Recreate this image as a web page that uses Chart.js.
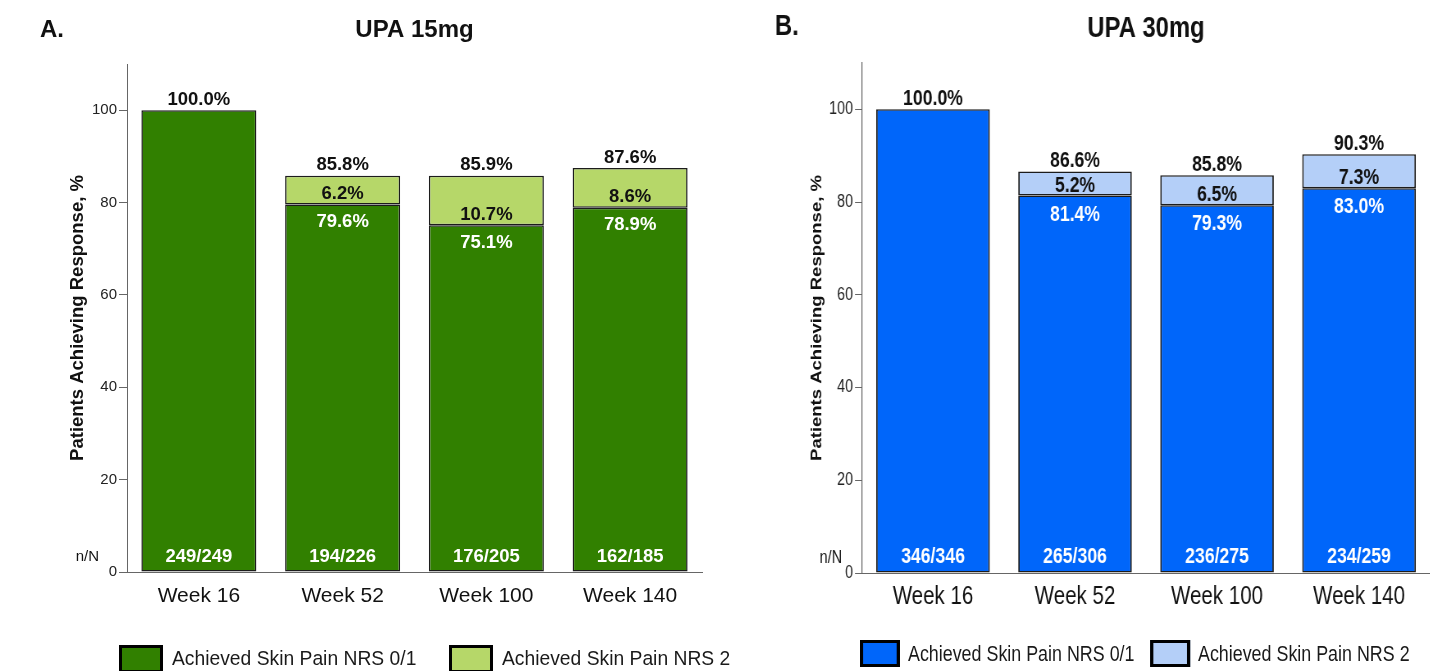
<!DOCTYPE html>
<html>
<head>
<meta charset="utf-8">
<script src="https://cdn.jsdelivr.net/npm/chart.js@4.4.1/dist/chart.umd.min.js"></script>
<style>
  html, body { margin: 0; padding: 0; background: #fff; }
  body { width: 1430px; height: 671px; position: relative; overflow: hidden; }
  .panel { position: absolute; top: 0; height: 671px; transform-origin: 0 0; }
  .legend-item { position: absolute; display: flex; align-items: center; white-space: nowrap; color: #1a1a1a; }
  .swatch { box-sizing: border-box; border-style: solid; border-color: #000; flex: none; }
</style>
</head>
<body>
<div class="panel" id="panelA"><canvas id="chartA"></canvas></div>
<div class="panel" id="panelB"><canvas id="chartB"></canvas></div>
<script>
// Visits and series
const weeks = ['Week 16', 'Week 52', 'Week 100', 'Week 140'];
const seriesNames = ['Achieved Skin Pain NRS 0/1', 'Achieved Skin Pain NRS 2'];
const yTicks = [0, 20, 40, 60, 80, 100];

// UPA 15 mg: % of patients
const upa15Nrs01 = [100.0, 79.6, 75.1, 78.9];
const upa15Nrs2 = [null, 6.2, 10.7, 8.6];
const upa15Total = [100.0, 85.8, 85.9, 87.6];
const upa15nN = ['249/249', '194/226', '176/205', '162/185'];

// UPA 30 mg: % of patients
const upa30Nrs01 = [100.0, 81.4, 79.3, 83.0];
const upa30Nrs2 = [null, 5.2, 6.5, 7.3];
const upa30Total = [100.0, 86.6, 85.8, 90.3];
const upa30nN = ['346/346', '265/306', '236/275', '234/259'];

const SANS = "'Liberation Sans', Arial, sans-serif";
// Panel B is set in a condensed face: drawn wide, then compressed horizontally
const CONDENSE = 0.82;

const pct = v => v.toFixed(1) + '%';

// Percent labels on/above each stacked bar, n/N counts at the base, panel letter
const barLabels = {
  id: 'barLabels',
  afterDatasetsDraw(chart, args, o) {
    const ctx = chart.ctx;
    const low = chart.getDatasetMeta(0);
    const high = chart.getDatasetMeta(1);
    const yScale = chart.scales.y;
    ctx.save();
    ctx.textAlign = 'center';
    ctx.textBaseline = 'middle';
    low.data.forEach((bar, i) => {
      const hasUpper = o.upper[i] != null;
      ctx.font = o.boldFont;
      ctx.fillStyle = '#ffffff';
      ctx.fillText(o.counts[i], bar.x, bar.base - o.countOff);
      let stackTop = bar.y;
      if (hasUpper) {
        const up = high.data[i];
        ctx.fillText(pct(o.lower[i]), bar.x, bar.y + o.innerOff);
        ctx.fillStyle = '#111111';
        ctx.fillText(pct(o.upper[i]), bar.x, up.base - o.segOff);
        stackTop = up.y;
      }
      ctx.fillStyle = '#111111';
      ctx.fillText(pct(o.total[i]), bar.x, stackTop - o.totalOff);
    });
    ctx.fillStyle = '#111111';
    ctx.font = o.capFont;
    ctx.textAlign = 'right';
    ctx.fillText('n/N', o.capX, yScale.getPixelForValue(0) - o.countOff);
    ctx.font = o.letterFont;
    ctx.textAlign = 'left';
    ctx.fillText(o.letter, o.letterX, o.letterY);
    ctx.restore();
  }
};

// p holds on-screen geometry; k converts it to the panel's drawing coordinates
function makePanel(panelId, canvasId, p) {
  const k = 1 / p.squeeze;
  const panel = document.getElementById(panelId);
  panel.style.left = p.left + 'px';
  panel.style.width = (p.width * k) + 'px';
  panel.style.transform = 'scaleX(' + p.squeeze + ')';

  new Chart(document.getElementById(canvasId), {
    type: 'bar',
    data: {
      labels: weeks,
      datasets: [
        { label: seriesNames[0], data: p.lower, backgroundColor: p.dark },
        { label: seriesNames[1], data: p.upper, backgroundColor: p.light }
      ]
    },
    options: {
      responsive: true,
      maintainAspectRatio: false,
      animation: false,
      devicePixelRatio: 1,
      datasets: {
        bar: {
          borderColor: '#1c1c1c',
          borderWidth: { top: 1.5, bottom: 1.5, left: 1.5 * k, right: 1.5 * k },
          borderSkipped: false,
          barPercentage: 0.8, categoryPercentage: 1.0
        }
      },
      layout: { padding: { left: 0, right: p.padRight * k, top: 0, bottom: p.padBottom } },
      plugins: {
        legend: { display: false },
        tooltip: { enabled: false },
        title: {
          display: true, text: p.title, fullSize: false, color: '#111',
          font: { family: SANS, size: p.titleSize, weight: 'bold' },
          padding: p.titlePad
        },
        barLabels: {
          lower: p.lower, upper: p.upper, total: p.total, counts: p.counts,
          boldFont: 'bold ' + p.labelSize + 'px ' + SANS,
          capFont: p.capSize + 'px ' + SANS,
          letterFont: 'bold ' + p.titleSize + 'px ' + SANS,
          letter: p.letter, letterX: p.letterX * k, letterY: p.letterY, capX: p.capX * k,
          totalOff: p.totalOff, segOff: p.segOff, innerOff: p.innerOff, countOff: p.countOff
        }
      },
      scales: {
        x: {
          stacked: true,
          afterFit: s => { s.height = 40; },
          grid: { display: false },
          border: { display: true, color: '#666', width: 1 },
          ticks: { color: '#111', font: { family: SANS, size: p.xSize }, padding: p.xPad, maxRotation: 0 }
        },
        y: {
          stacked: true, min: 0, max: 110,
          afterBuildTicks: s => { s.ticks = yTicks.map(v => ({ value: v })); },
          afterFit: s => { s.width = p.yWidth * k; },
          grid: { drawOnChartArea: false, tickLength: p.tickLen * k, color: '#666', lineWidth: 1 },
          border: { display: true, color: '#666', width: k },
          ticks: { color: '#222', font: { family: SANS, size: p.tickSize }, padding: 2 * k },
          title: {
            display: true, text: 'Patients Achieving Response, %', color: '#111',
            font: { family: SANS, size: p.yTitleSize, weight: 'bold' },
            padding: { top: p.yTitleX * k - p.yTitleSize * 0.6, bottom: 0 }
          }
        }
      }
    },
    plugins: [barLabels]
  });

  // Legend under the panel
  p.legend.boxLeft.forEach((bx, idx) => {
    const item = document.createElement('div');
    item.className = 'legend-item';
    item.style.left = (bx * k) + 'px';
    item.style.top = p.legend.top + 'px';
    item.style.height = p.legend.h + 'px';
    item.style.font = p.legend.size + 'px ' + SANS;
    const sw = document.createElement('span');
    sw.className = 'swatch';
    sw.style.width = (p.legend.w * k) + 'px';
    sw.style.height = p.legend.h + 'px';
    sw.style.borderWidth = '3.5px ' + (3.5 * k) + 'px';
    sw.style.background = idx === 0 ? p.dark : p.light;
    sw.style.marginRight = (p.legend.gap * k) + 'px';
    const tx = document.createElement('span');
    tx.textContent = seriesNames[idx];
    item.appendChild(sw);
    item.appendChild(tx);
    panel.appendChild(item);
  });
}

makePanel('panelA', 'chartA', {
  left: 0, width: 745, squeeze: 1,
  title: 'UPA 15mg', letter: 'A.',
  lower: upa15Nrs01, upper: upa15Nrs2, total: upa15Total, counts: upa15nN,
  dark: '#318000', light: '#b6d769',
  padRight: 43, padBottom: 59,
  titleSize: 24, titlePad: { top: 15.6, bottom: 19.6 },
  letterX: 40, letterY: 30,
  yWidth: 127, tickLen: 8, tickSize: 15, yTitleSize: 18.5, yTitleX: 78,
  xSize: 21, xPad: 4,
  labelSize: 18.5, capSize: 15, capX: 99,
  totalOff: 10.5, segOff: 10.5, innerOff: 17.5, countOff: 15,
  legend: { boxLeft: [119, 449], top: 645, w: 44, h: 28, gap: 9, size: 19.3 }
});

makePanel('panelB', 'chartB', {
  left: 745, width: 685, squeeze: CONDENSE,
  title: 'UPA 30mg', letter: 'B.',
  lower: upa30Nrs01, upper: upa30Nrs2, total: upa30Total, counts: upa30nN,
  dark: '#0066fa', light: '#b4cff8',
  padRight: 0, padBottom: 58,
  titleSize: 29, titlePad: { top: 12, bottom: 16.2 },
  letterX: 30, letterY: 27,
  yWidth: 117, tickLen: 7, tickSize: 17.5, yTitleSize: 18.5, yTitleX: 72,
  xSize: 25, xPad: 1,
  labelSize: 21.5, capSize: 17.5, capX: 97,
  totalOff: 10, segOff: 10, innerOff: 19, countOff: 15,
  legend: { boxLeft: [115, 405], top: 640, w: 40, h: 27, gap: 8, size: 21.8 }
});
</script>
</body>
</html>
